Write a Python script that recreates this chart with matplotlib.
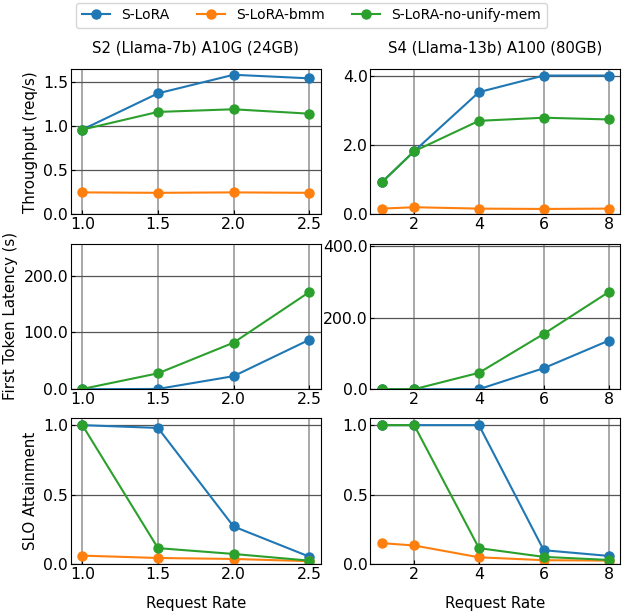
import matplotlib
matplotlib.use("Agg")
import matplotlib.pyplot as plt
from matplotlib.ticker import FormatStrFormatter

# request rates
rates_s2 = [1.0, 1.5, 2.0, 2.5]
rates_s4 = [1, 2, 4, 6, 8]
series = ["S-LoRA", "S-LoRA-bmm", "S-LoRA-no-unify-mem"]
colors = ["#1f77b4", "#ff7f0e", "#2ca02c"]

# S2 (Llama-7b) A10G
thr_s2 = [[0.96, 1.37, 1.58, 1.54],
          [0.25, 0.245, 0.25, 0.245],
          [0.96, 1.16, 1.19, 1.14]]
ftl_s2 = [[0.0, 0.5, 23.0, 87.0],
          None,
          [0.5, 28.0, 82.0, 171.0]]
slo_s2 = [[1.0, 0.98, 0.27, 0.053],
          [0.06, 0.043, 0.036, 0.02],
          [1.0, 0.114, 0.072, 0.024]]

# S4 (Llama-13b) A100
thr_s4 = [[0.93, 1.83, 3.54, 4.02, 4.02],
          [0.17, 0.21, 0.17, 0.16, 0.17],
          [0.93, 1.83, 2.71, 2.80, 2.75]]
ftl_s4 = [[0.0, 0.0, 0.0, 59.0, 136.0],
          None,
          [0.0, 0.0, 46.0, 155.0, 272.0]]
slo_s4 = [[1.0, 1.0, 1.0, 0.099, 0.058],
          [0.15, 0.133, 0.048, 0.027, 0.024],
          [1.0, 1.0, 0.114, 0.051, 0.029]]

fig, axes = plt.subplots(3, 2, figsize=(6.23, 6.15), dpi=100)
fig.subplots_adjust(left=0.114, right=0.995, top=0.888, bottom=0.083,
                    wspace=0.2, hspace=0.2)

cols = [(rates_s2, [thr_s2, ftl_s2, slo_s2]), (rates_s4, [thr_s4, ftl_s4, slo_s4])]
for c, (x, rows) in enumerate(cols):
    for r, data in enumerate(rows):
        ax = axes[r, c]
        for name, col, ys in zip(series, colors, data):
            if ys is None:
                continue
            ax.plot(x, ys, marker="o", color=col, lw=1.5, ms=6.5, label=name)
        if r == 1:
            top = max(max(y) for y in data if y is not None)
            ax.set_ylim(0, top * 1.5)
        else:
            ax.set_ylim(bottom=0)
        ax.yaxis.set_major_formatter(FormatStrFormatter("%.1f"))
        ax.tick_params(direction="in", labelsize=11.3, pad=2, length=3)
        ax.xaxis.grid(True, color="#999999", lw=1.2)
        ax.yaxis.grid(True, color="#555555", lw=0.9)
        if c == 1:
            ax.set_xticks([2, 4, 6, 8])
        else:
            ax.set_xticks([1.0, 1.5, 2.0, 2.5])
            ax.xaxis.set_major_formatter(FormatStrFormatter("%.1f"))

axes[1, 0].set_yticks([0, 100, 200])
axes[1, 1].set_yticks([0, 200, 400])
axes[0, 1].set_yticks([0, 2, 4])

axes[0, 0].set_title("S2 (Llama-7b) A10G (24GB)", fontsize=10.7, pad=12)
axes[0, 1].set_title("S4 (Llama-13b) A100 (80GB)", fontsize=10.7, pad=12)
axes[0, 0].set_ylabel("Throughput (req/s)", fontsize=10.8)
axes[1, 0].set_ylabel("First Token Latency (s)", fontsize=10.8)
axes[2, 0].set_ylabel("SLO Attainment", fontsize=10.8)
axes[2, 0].set_xlabel("Request Rate", fontsize=10.8, labelpad=10)
axes[2, 1].set_xlabel("Request Rate", fontsize=10.8, labelpad=10)

handles, labels = axes[0, 0].get_legend_handles_labels()
fig.legend(handles, labels, loc="upper center", bbox_to_anchor=(0.5, 1.0),
           ncol=3, fontsize=10, frameon=True, borderaxespad=0.2)

fig.savefig("out.png", dpi=100)
